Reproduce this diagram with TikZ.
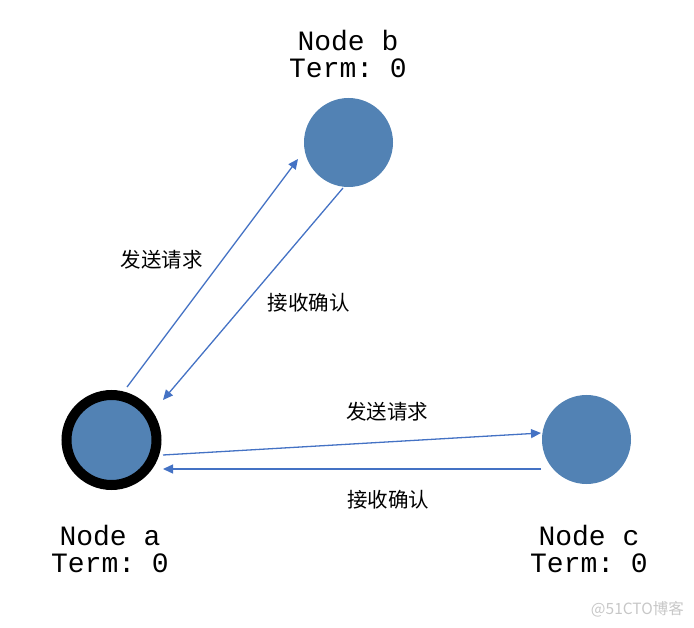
\documentclass[tikz,border=0pt]{standalone}
\usepackage{fontspec}
\setmonofont{Liberation Mono}
\newfontfamily\cjk{Noto Sans CJK SC}
\usetikzlibrary{arrows.meta}
\definecolor{nodeblue}{HTML}{5282B4}
\definecolor{arrowblue}{HTML}{4472C4}
\begin{document}
\begin{tikzpicture}[x=1pt,y=-1pt,
  peer/.style={circle,fill=nodeblue,minimum size=89pt,inner sep=0pt},
  leader/.style={circle,fill=nodeblue,draw=black,line width=10pt,minimum size=90pt,inner sep=0pt},
  info/.style={font=\ttfamily\fontsize{28}{26.5}\selectfont,align=center,anchor=base,inner sep=0pt},
  msg/.style={font=\cjk\fontsize{20.5}{24}\selectfont,inner sep=0pt},
  link/.style={draw=arrowblue,line width=1.3pt,-{Triangle[length=10pt,width=9pt]}}]
\useasboundingbox (0,0) rectangle (694,628);
\node[leader] (a) at (111.5,440) {};
\node[peer] (b) at (348.5,142.5) {};
\node[peer] (c) at (586.5,439.5) {};
\node[info] (la) at (110,572) {Node a\\Term: 0};
\node[info] (lb) at (348,77.5) {Node b\\Term: 0};
\node[info] (lc) at (589,572) {Node c\\Term: 0};
\draw[link] ([shift={(15.5,-53)}]a.center) -- ([shift={(-50.5,16.5)}]b.center);
\draw[link] ([shift={(-5.5,45.5)}]b.center) -- ([shift={(51.5,-40)}]a.center);
\draw[link] ([shift={(51.5,15)}]a.center) -- ([shift={(-45.5,-6.5)}]c.center);
\draw[link] ([shift={(-45.5,29.5)}]c.center) -- ([shift={(51.5,29)}]a.center);
\node[msg] (m1) at (161.5,260) {发送请求};
\node[msg] (m2) at (308.5,303) {接收确认};
\node[msg] (m3) at (387,412) {发送请求};
\node[msg] (m4) at (388,500) {接收确认};
\node[font=\cjk\fontsize{15.5}{18}\selectfont,text=black!22,anchor=east,inner sep=0pt] (wm) at (684,609) {@51CTO博客};
\end{tikzpicture}
\end{document}
